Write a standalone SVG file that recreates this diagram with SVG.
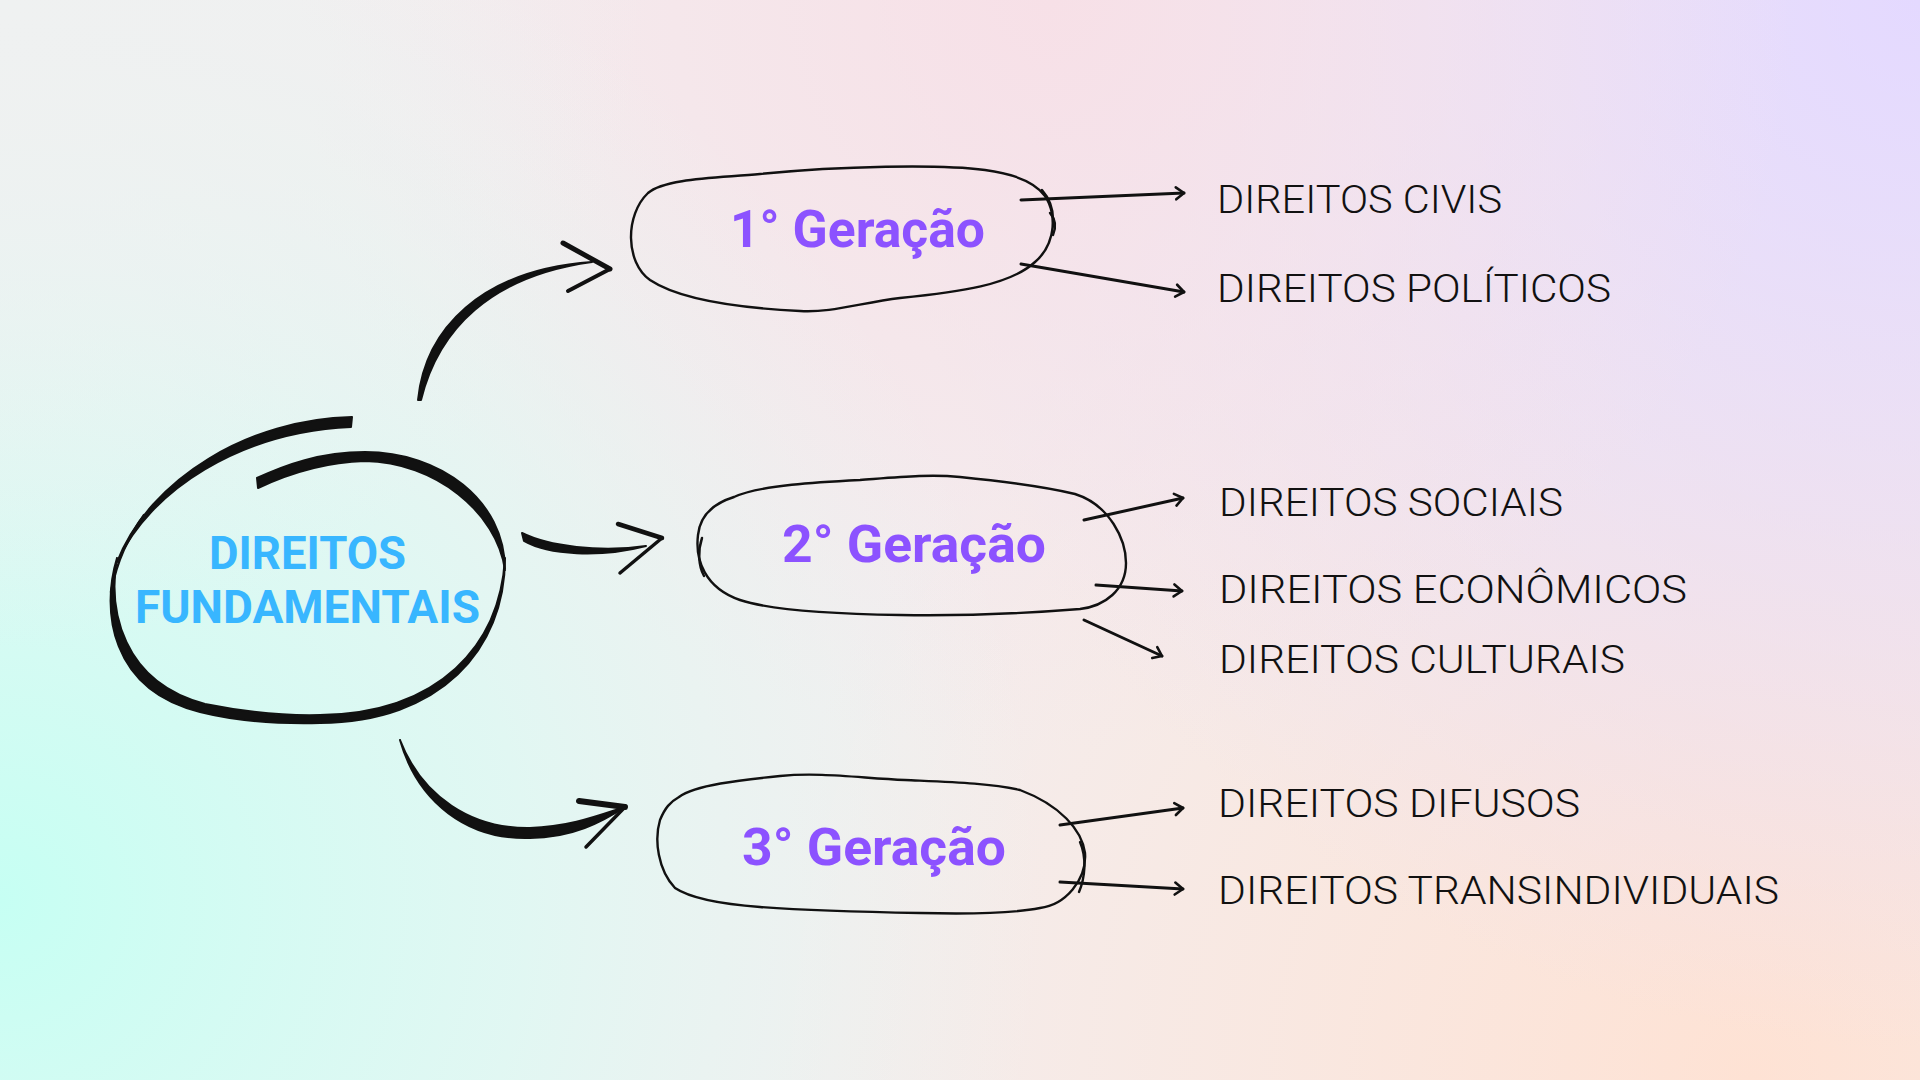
<svg xmlns="http://www.w3.org/2000/svg" width="1920" height="1080" viewBox="0 0 1920 1080">
<defs>
<radialGradient id="gPeach" cx="1750" cy="1080" r="1000" gradientUnits="userSpaceOnUse">
<stop offset="0" stop-color="#fee2d4"/><stop offset="1" stop-color="#fee2d4" stop-opacity="0"/></radialGradient>
<radialGradient id="gLav" cx="1920" cy="0" r="1050" gradientUnits="userSpaceOnUse">
<stop offset="0" stop-color="#e4d9ff"/><stop offset="1" stop-color="#e4d9ff" stop-opacity="0"/></radialGradient>
<radialGradient id="gPink" cx="1050" cy="0" r="750" gradientUnits="userSpaceOnUse">
<stop offset="0" stop-color="#f7e0e7"/><stop offset="1" stop-color="#f7e0e7" stop-opacity="0"/></radialGradient>
<radialGradient id="gCyan" cx="0" cy="900" r="1050" gradientUnits="userSpaceOnUse">
<stop offset="0" stop-color="#c6fff3"/><stop offset="0.5" stop-color="#d9fbf4" stop-opacity="0.7"/><stop offset="1" stop-color="#e6f7f3" stop-opacity="0"/></radialGradient>
<radialGradient id="gGrey" cx="0" cy="0" r="650" gradientUnits="userSpaceOnUse">
<stop offset="0" stop-color="#eff1f1"/><stop offset="1" stop-color="#eff1f1" stop-opacity="0"/></radialGradient>
<marker id="ah" viewBox="-12 -9 14 18" refX="0" refY="0" markerWidth="14" markerHeight="18" markerUnits="userSpaceOnUse" orient="auto">
<path d="M-8,-6 L0,0 L-8,6" fill="none" stroke="#111" stroke-width="2.6" stroke-linecap="round" stroke-linejoin="round"/>
</marker>
<style>
.blob{fill:none;stroke:#111;stroke-width:2.4;stroke-linecap:round;stroke-linejoin:round}
.ink{fill:#111;stroke:#111;stroke-width:2;stroke-linejoin:round}
.barb{fill:none;stroke:#111;stroke-linecap:round}
.conn{fill:none;stroke:#111;stroke-width:3;stroke-linecap:round;marker-end:url(#ah)}
.gen{font-family:Roboto,"Liberation Sans",sans-serif;font-weight:700;font-size:52px;fill:#8c52ff}
.main{font-family:Roboto,"Liberation Sans",sans-serif;font-weight:700;font-size:46px;fill:#38b6ff}
.item{font-family:Roboto,"Liberation Sans",sans-serif;font-weight:300;font-size:39px;fill:#111}
</style>
</defs>

<rect width="1920" height="1080" fill="#f3eeef"/>
<rect width="1920" height="1080" fill="url(#gPeach)"/>
<rect width="1920" height="1080" fill="url(#gLav)"/>
<rect width="1920" height="1080" fill="url(#gPink)"/>
<rect width="1920" height="1080" fill="url(#gCyan)"/>
<rect width="1920" height="1080" fill="url(#gGrey)"/>

<g id="node-direitos-fundamentais">
<path class="ink" d="M352,417 C250,419 150,478 117,562 C150,490 240,432 351,427 Z"/>
<path class="ink" d="M117,558 C101,610 110,690 200,712 C240,722 280,724 320,723 C440,722 505,650 505,558 C500,645 440,713 320,715 C280,716 245,712 205,704 C122,682 108,610 117,558 Z"/>
<path class="ink" d="M505,570 C505,500 440,452 365,452 C320,452 285,465 257,478 L258,488 C290,473 325,462 365,461 C435,462 497,512 505,570 Z"/>
<path class="blob" d="M144,515 C128,538 117,560 111,592"/>
<text class="main" x="209" y="569" textLength="197" lengthAdjust="spacingAndGlyphs">DIREITOS</text>
<text class="main" x="135" y="623" textLength="345" lengthAdjust="spacingAndGlyphs">FUNDAMENTAIS</text>
</g>

<g id="node-geracao-1">
<path class="blob" d="M1042,190 C1060,210 1055,245 1035,262 C1010,285 960,292 900,298 C860,303 830,313 800,311 C740,308 680,300 650,280 C625,262 625,215 648,193 C665,178 720,178 760,174 C840,166 940,164 985,170 C1015,174 1035,182 1045,196 C1052,206 1054,220 1052,232"/>
<path class="blob" d="M1050,213 C1056,220 1056,228 1053,235"/>
<text class="gen" x="730" y="247" textLength="255" lengthAdjust="spacingAndGlyphs">1° Geração</text>
</g>

<g id="node-geracao-2">
<path class="blob" d="M734,497 C760,485 820,482 860,480 C900,477 930,474 960,477 C1000,481 1050,488 1075,494 C1110,505 1126,540 1126,563 C1126,590 1105,606 1080,609 C1030,613 960,616 900,615 C840,614 770,610 740,600 C705,588 695,560 698,535 C700,515 715,503 734,497"/>
<path class="blob" d="M702,538 C698,550 698,565 704,576"/>
<text class="gen" x="782" y="562" textLength="264" lengthAdjust="spacingAndGlyphs">2° Geração</text>
</g>

<g id="node-geracao-3">
<path class="blob" d="M679,797 C695,785 740,780 780,776 C820,772 860,778 905,780 C950,782 990,783 1020,790 C1060,805 1082,830 1085,853 C1087,880 1065,905 1040,908 C1010,914 960,914 920,913 C860,912 800,910 760,907 C720,904 690,898 675,888 C658,870 654,840 660,820 C665,808 670,802 679,797"/>
<path class="blob" d="M1080,842 C1087,858 1085,878 1079,892"/>
<text class="gen" x="742" y="865" textLength="264" lengthAdjust="spacingAndGlyphs">3° Geração</text>
</g>

<g id="item-civis"><text class="item" x="1217" y="213" textLength="285" lengthAdjust="spacingAndGlyphs">DIREITOS CIVIS</text></g>
<g id="item-politicos"><text class="item" x="1217" y="302" textLength="394" lengthAdjust="spacingAndGlyphs">DIREITOS POLÍTICOS</text></g>
<g id="item-sociais"><text class="item" x="1219" y="516" textLength="344" lengthAdjust="spacingAndGlyphs">DIREITOS SOCIAIS</text></g>
<g id="item-economicos"><text class="item" x="1219" y="603" textLength="468" lengthAdjust="spacingAndGlyphs">DIREITOS ECONÔMICOS</text></g>
<g id="item-culturais"><text class="item" x="1219" y="673" textLength="406" lengthAdjust="spacingAndGlyphs">DIREITOS CULTURAIS</text></g>
<g id="item-difusos"><text class="item" x="1218" y="817" textLength="362" lengthAdjust="spacingAndGlyphs">DIREITOS DIFUSOS</text></g>
<g id="item-transindividuais"><text class="item" x="1218" y="904" textLength="561" lengthAdjust="spacingAndGlyphs">DIREITOS TRANSINDIVIDUAIS</text></g>

<g id="connectors">
<path class="ink" d="M418,400 C425,330 480,270 592,262 C490,276 438,330 421,400 Z"/>
<path class="barb" stroke-width="5" d="M563,243 L610,269"/>
<path class="barb" stroke-width="4" d="M568,291 L610,269"/>

<path class="ink" d="M522,533 C548,546 600,553 646,546 C600,558 548,555 524,541 Z"/>
<path class="barb" stroke-width="4.5" d="M618,524 L662,538"/>
<path class="barb" stroke-width="3.5" d="M620,573 L662,538"/>

<path class="ink" d="M400,740 C422,797 472,829 530,828 C570,827 600,815 625,807 C602,822 572,838 530,838 C468,840 418,803 400,740 Z"/>
<path class="barb" stroke-width="6" d="M579,801 L625,807"/>
<path class="barb" stroke-width="3.5" d="M586,847 L625,807"/>

<path class="conn" d="M1021,200 L1184,193"/>
<path class="conn" d="M1021,264 L1184,292"/>
<path class="conn" stroke-width="2.6" d="M1084,520 L1183,498"/>
<path class="conn" stroke-width="2.6" d="M1096,585 L1182,591"/>
<path class="conn" stroke-width="2.4" d="M1084,620 L1162,656"/>
<path class="conn" d="M1060,825 L1183,808"/>
<path class="conn" d="M1060,882 L1183,889"/>
</g>
</svg>
